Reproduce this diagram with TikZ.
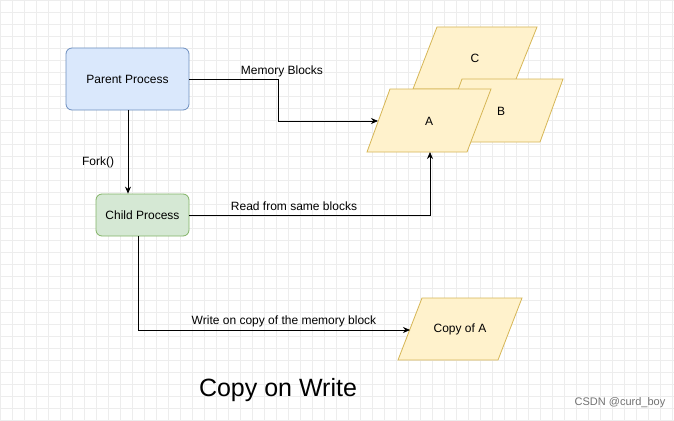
\documentclass[tikz,border=0pt]{standalone}
\usepackage{fontspec}
\setmainfont{Liberation Sans}
\usetikzlibrary{arrows.meta}
\definecolor{bfill}{HTML}{DAE8FC}\definecolor{bline}{HTML}{6C8EBF}
\definecolor{gfill}{HTML}{D5E8D4}\definecolor{gline}{HTML}{82B366}
\definecolor{yfill}{HTML}{FFF2CC}\definecolor{yline}{HTML}{D6B656}
\begin{document}
\begin{tikzpicture}[x=1pt,y=-1pt,
  box/.style={draw,rounded corners=6pt,line width=0.8pt,font=\fontsize{12}{14}\selectfont,inner sep=0},
  para/.style={fill=yfill,draw=yline,line width=0.8pt},
  lbl/.style={font=\fontsize{12}{14}\selectfont},
  arr/.style={-{Stealth[length=7pt,width=6pt]},line width=0.8pt}]
\useasboundingbox (0,0) rectangle (674,420);
\fill[white] (0,0) rectangle (674,420);
\foreach \i in {0,12,...,672} \draw[black!7,line width=0.4pt] (\i,0) -- (\i,420);
\foreach \j in {0,12,...,420} \draw[black!7,line width=0.4pt] (0,\j) -- (674,\j);
% parallelograms
\draw[para] (437,27) -- (537,27) -- (512,89) -- (413,89) -- cycle;
\node[lbl] (c) at (475,58) {C};
\draw[para] (462,79) -- (563,79) -- (540,142) -- (439,142) -- cycle;
\node[lbl] (b) at (501,111) {B};
\draw[para] (390,89) -- (491,89) -- (467,152) -- (367,152) -- cycle;
\node[lbl] (a) at (429,121) {A};
\coordinate (aL) at (378,121);
\coordinate (aB) at (430,152);
\draw[para] (422,298) -- (522,298) -- (498,360) -- (398,360) -- cycle;
\node[lbl] (ca) at (460,329) {Copy of A};
\coordinate (caL) at (410,330);
% process boxes
\node[box,fill=bfill,draw=bline,minimum width=123pt,minimum height=62pt] (p) at (127.5,79) {Parent Process};
\node[box,fill=gfill,draw=gline,minimum width=93pt,minimum height=42pt] (ch) at (142.5,215) {Child Process};
% connectors
\draw[arr] (p.south -| 128,0) -- (ch.north -| 128,0);
\node[lbl] (fork) at (98,162) {Fork()};
\draw[arr] (p.east) -- (278,79) -- (278,121) -- (aL);
\node[lbl] (mb) at (282,71) {Memory Blocks};
\draw[arr] (ch.east) -- (430,215) -- (aB);
\node[lbl] (rd) at (294,206) {Read from same blocks};
\draw[arr] (138,236) -- (138,330) -- (caL);
\node[lbl] (wr) at (284,321) {Write on copy of the memory block};
\node[font=\fontsize{25}{30}\selectfont] (t) at (278,390) {Copy on Write};
\node[font=\fontsize{11}{13}\selectfont,text=black!55] (w) at (620,403) {CSDN @curd\_boy};
\end{tikzpicture}
\end{document}
